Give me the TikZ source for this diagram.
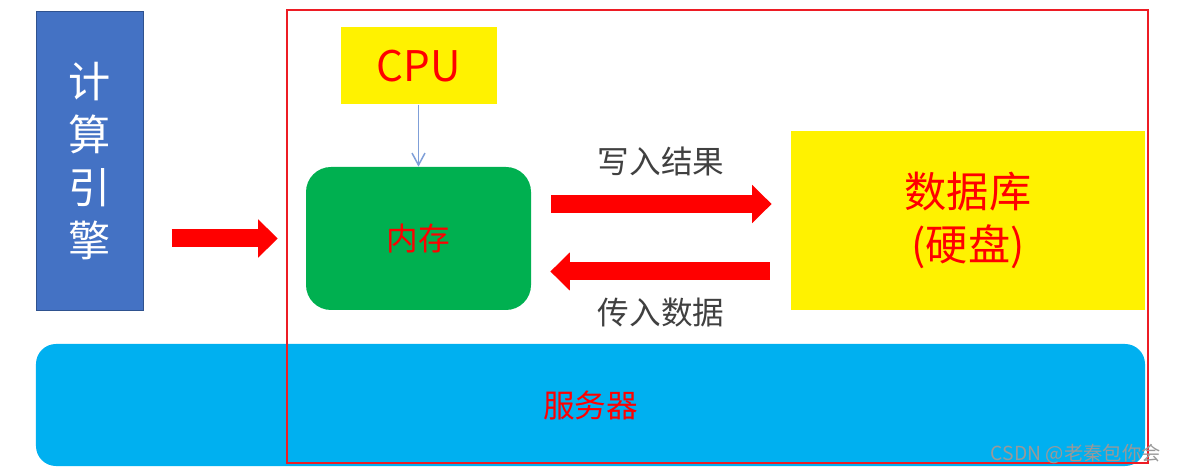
\documentclass[tikz,border=0pt]{standalone}
\usepackage{fontspec}
\setmainfont{Noto Sans CJK SC}
\usetikzlibrary{arrows.meta,positioning}
\definecolor{engblue}{HTML}{4472C4}
\definecolor{engedge}{HTML}{2F528F}
\definecolor{memgreen}{HTML}{00B050}
\definecolor{srvblue}{HTML}{00B0F0}
\definecolor{framered}{HTML}{ED1C24}
\definecolor{cpuline}{HTML}{7F9FD8}
\definecolor{labelgray}{HTML}{404040}

\begin{document}
\begin{tikzpicture}[x=0.2mm,y=-0.2mm,>=Latex,box/.style={inner sep=0pt,align=center,text=red},fatarrow/.style={draw=red,line width=3.6mm,-{Triangle[length=3.9mm,width=7.4mm]}},lbl/.style={font=\fontsize{18}{22}\selectfont,text=labelgray},node distance=12.4mm]
\useasboundingbox (0,0) rectangle (1182,473);
\node[box,fill=engblue,draw=engedge,line width=0.2mm,minimum width=21.2mm,minimum height=59.6mm,text=white,font=\fontsize{24}{30}\selectfont] (engine) at (90,161) {计\\算\\引\\擎};
\node[box,fill=memgreen,rounded corners=5mm,minimum width=45mm,minimum height=28.6mm,font=\fontsize{18}{22}\selectfont] (mem) at (418.5,238.5) {内存};
\node[box,fill=yellow,above=of mem,minimum width=31.2mm,minimum height=15.4mm,font=\fontsize{24}{28}\selectfont] (cpu) {CPU};
\node[box,fill=yellow,minimum width=70.8mm,minimum height=35.8mm,font=\fontsize{24}{30.6}\selectfont] (db) at (968,220.5) {数据库\\(硬盘)};
\node[box,fill=srvblue,rounded corners=4mm,minimum width=221.8mm,minimum height=24.4mm,font=\fontsize{18}{22}\selectfont] (server) at (590.5,405) {服务器};
\node[draw=framered,line width=0.5mm,minimum width=172.2mm,minimum height=90.6mm,inner sep=0pt] (frame) at (717.5,236.5) {};
\draw[draw=cpuline,line width=0.3mm,-{Straight Barb[length=2.4mm,width=2.6mm]}] (cpu) -- (mem);
% fat red arrows
\coordinate (wr) at (0,204);
\coordinate (rd) at (0,271.5);
\draw[fatarrow,shorten <=5.6mm,shorten >=1.6mm] (engine.east |- mem) -- (frame.west |- mem);
\draw[fatarrow,shorten <=4mm,shorten >=3.8mm] (mem.east |- wr) -- (db.west |- wr) node[lbl,midway,yshift=8.6mm] {写入结果};
\draw[fatarrow,shorten <=4.2mm,shorten >=3.8mm] (db.west |- rd) -- (mem.east |- rd) node[lbl,midway,yshift=-8.3mm] {传入数据};
\node[text=gray!80,font=\fontsize{11}{13}\selectfont,anchor=east] (mark) at (1167,454) {CSDN @老秦包你会};
\end{tikzpicture}
\end{document}
